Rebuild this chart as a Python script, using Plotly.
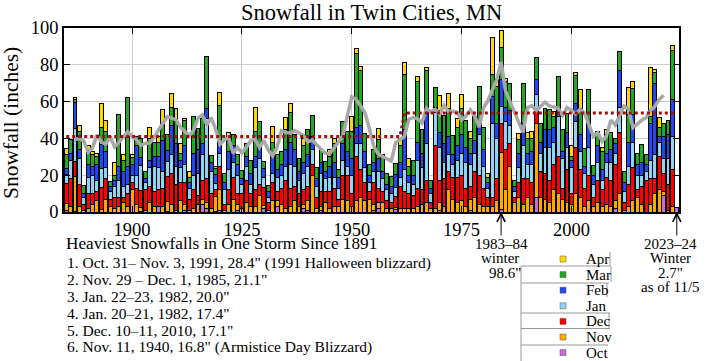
import numpy as np
import plotly.graph_objects as go

years = list(range(1885, 2025))

oct_snow = [1,0,0.3,0,0,0,0,0,0,0,
            0,0,0,0,0,0,0,0.5,0,0,
            0,3,0,0.5,0,0,0,1,0,0,
            0,4,2,0,0.5,1,0,0,0,1,
            0,0,0,0,0,2,0,0,3,0,
            0,0,0,0,2,1,0,0,1,0,
            0,0,0,0,0,0,0,0,0,0,
            1,2,0,0,0,1.5,0,0,0,0,
            0,0,0,0,0,1,0,0,0,0,
            0,0,1,0,0,0,0,0,0,1.2,
            0,0,0,0,0,0,0,8,0,0,
            0,0,0,0,0,0,0,0,0,0,
            0,0,0,0,0,2,0,0,0,0,
            0,0,0,0,0,0,9,0,0,2.7]
nov_snow = [3.5,3,19,3,1,2,4,6,1.5,7,
            3,2,3,5,3,12,4,2,1,5,
            3,0,3,5,4,1,6,3,1,2,
            4,3,3,2,8,11,1,4,7,3,
            2,5,3,3,9,1.5,1,6,3,4,
            2,3,6,3,2,5,20,2,2,5,
            2,3,3,7,6,3,6,8,6,7,
            3,3,5,2,2,1,2,2,2,2,
            3,4,5,2,2,4,3,12,7,5,
            6,3,6,8,4,3,3,3,6,31,
            12,25,5,8,4,8,4,40,8,7,
            5,12,10,7,5,4,10,8,3,6,
            3,5,3,4,3,4,10,1,3,6,
            8,4,0,4,10,12,2,1,3,0]
dec_snow = [11,15,8,12,3,8,6,5,12,11,
            4,6,5,3,7,4,9,9,11,9,
            8,9,10,14,17,14,10,12,6,10,
            5,10,13,8,4,13,3,8,12,6,
            8,12,7,9,6,10,4,10,5,9,
            15,10,8,7,8,8,6,6,8,6,
            9,10,4,13,14,7,24,15,10,4,
            12,8,6,4,3,6,12,9,8,7,
            10,8,12,3,34,12,15,10,12,14,
            14,10,7,14,16,10,5,5,12,16,
            22,12,3,8,14,10,12,8,14,14,
            12,14,20,6,18,6,25,15,10,14,
            5,12,9,15,14,20,33,4,12,18,
            4,10,17,14,8,18,10,14,20,0]
jan_snow = [5,10,18,14,4,9,10,6,10,6,
            4,6,9,6,5,4,7,14,4,10,
            14,12,9,8,10,10,8,10,6,8,
            12,14,33,12,3,7,8,11,8,10,
            5,8,5,12,14,5,3,5,8,7,
            8,13,11,7,9,11,8,6,10,7,
            8,6,6,8,5,10,7,14,8,5,
            6,9,7,6,5,5,5,12,6,6,
            15,12,20,5,18,18,9,9,7,9,
            12,14,12,10,22,12,5,40,22,9,
            15,10,3,8,18,8,10,8,10,14,
            18,12,22,16,12,14,14,10,8,15,
            7,10,5,8,10,6,14,6,10,14,
            8,6,5,10,13,8,8,14,18,0]
feb_snow = [3,4,14,5,2,7,5,9,13,9,
            3,3,8,8,10,6,16,4,2,4,
            5,6,17,6,16,12,4,10,3,12,
            13,6,5,5,5,5,4,10,9,6,
            3,5,6,6,8,5,3,9,4,6,
            9,12,9,5,6,6,7,4,6,4,
            6,8,6,9,8,9,9,10,9,4,
            5,7,4,3,4,7,8,22,4,5,
            10,8,20,3,3,8,10,10,5,8,
            10,8,6,7,6,9,3,15,8,15,
            8,8,3,8,12,6,7,8,6,10,
            10,8,5,4,8,4,10,9,4,12,
            5,9,6,5,7,5,20,5,13,15,
            6,7,4,20,39,3,12,13,20,0]
mar_snow = [8,7.5,2,10,4.5,8,6,4,9.5,10.6,
            2.5,3,28,6,37,3.5,5,10.5,4,12,
            8,8,8,8.5,10,12,4,14,3,20,
            11.6,14,28.6,3.8,3,21,4.7,6,6,5,
            4.6,7,7,14,12,4,3.3,7.6,8,7,
            10.6,16,8,7,9,14,11.5,6,7,5.5,
            5,10,4,12,11,15,40,30,9.4,6,
            7,10.6,9,6,5.4,6.1,9,30,5,8,
            33,12.7,20,4,10.8,12,15.5,15,10.7,10,
            14,15,8,13,20,12,3,12,20,17,
            14,14.6,3,7.4,22,8,7,12,10,11,
            10.6,6,16.7,11.7,10.3,2,15,14,9.4,19.5,
            5.4,8,10,10,9,3,10,6,15,14,
            6,9.6,5.5,4,6,5,7,8,27,0]
apr_snow = [3,0,1,3,0,2,2,2,13,6,
            0,7,0,3,0,2,0,0,0,6,
            0,3,8.5,0,7.5,7,5,1,3,0,
            0,0,0,0,1.3,7,0,4,0,0,
            0,0,0,13,0,0,0,9,0,0,
            7,4.7,0,0,4,0,0,0,0,0,
            4,3,0,0,0,8,2.8,2,0,0,
            0,6,0,0,0,0,4,6.5,4,0,
            2.7,0,1.6,0,0,8.4,0,8.3,0,5,
            8,0,3.5,0,0.3,0,2,20,4,9.4,
            1.8,0,0,3,0,3,4,0,0,0,
            0,2.7,0,0,0,6,2,10.5,0,0,
            0,0,2,2.7,0,0,0,0,14.8,4,
            0,0,0,26.6,1.4,5.4,0,0,2.6,0]

month_names = ["Oct", "Nov", "Dec", "Jan", "Feb", "Mar", "Apr"]
month_values = [oct_snow, nov_snow, dec_snow, jan_snow, feb_snow, mar_snow, apr_snow]
month_colors = ["#C46CE0", "#FFA800", "#FF0000", "#8FD3F5", "#1F48F0", "#22A822", "#FFD700"]

# period averages (red dotted step line)
avg_years = [1885, 1961, 1962, 2024]
avg_values = [41.1, 41.1, 53.8, 53.8]

storm_heading = "Heaviest Snowfalls in One Storm Since 1891"
storm_lines = [
    "1. Oct. 31\u2013 Nov. 3, 1991, 28.4\" (1991 Halloween blizzard)",
    "2. Nov. 29 \u2013 Dec. 1, 1985, 21.1\"",
    "3. Jan. 22\u201323, 1982, 20.0\"",
    "4. Jan. 20\u201321, 1982, 17.4\"",
    "5. Dec. 10\u201311, 2010, 17.1\"",
    "6. Nov. 11, 1940, 16.8\" (Armistice Day Blizzard)",
]
x_ticks = [1900, 1925, 1950, 1975, 2000]
y_ticks = [0, 20, 40, 60, 80, 100]

totals = np.sum(np.array(month_values, dtype=float), axis=0)
# 5-year centred moving average (complete winters only, to 2022-23)
complete = totals[:-1]
ma = np.convolve(complete, np.ones(5) / 5, mode="valid")
ma_years = years[2:2 + len(ma)]

FONT = "Liberation Serif"
W, H = 706, 361
L, R, T, B = 64, 679, 28, 212


def px(x):
    return (x - L) / (R - L)


def py(y):
    return (B - y) / (B - T)


fig = go.Figure()
for name, vals, col in zip(month_names, month_values, month_colors):
    fig.add_trace(go.Bar(x=years, y=vals, name=name, marker_color=col,
                         marker_line_color="black", marker_line_width=1,
                         showlegend=False))

fig.add_trace(go.Scatter(x=ma_years, y=ma, mode="lines",
                         line=dict(color="#A8A8A8", width=3.5), showlegend=False))
fig.add_trace(go.Scatter(x=avg_years, y=avg_values, mode="lines",
                         line=dict(color="#A01010", width=3, dash="dot"), showlegend=False))

annotations = []
shapes = []

# title and y title
annotations.append(dict(text="Snowfall in Twin Cities, MN", xref="paper", yref="paper",
                        x=0.5, y=py(12), xanchor="center", yanchor="middle",
                        showarrow=False, font=dict(size=22.5, family=FONT, color="black")))
annotations.append(dict(text="Snowfall (inches)", xref="paper", yref="paper",
                        x=px(11), y=py(123), xanchor="center", yanchor="middle",
                        textangle=-90, showarrow=False,
                        font=dict(size=21.5, family=FONT, color="black")))

# storm list
annotations.append(dict(text=storm_heading, xref="paper", yref="paper", x=px(64), y=py(244),
                        xanchor="left", yanchor="middle", showarrow=False,
                        font=dict(size=17.2, family=FONT, color="black")))
for i, line in enumerate(storm_lines):
    annotations.append(dict(text=line, xref="paper", yref="paper", x=px(65), y=py(263 + 16.8 * i),
                            xanchor="left", yanchor="middle", showarrow=False,
                            font=dict(size=15.5, family=FONT, color="black")))

# arrows
for xa in (1984, 2024):
    annotations.append(dict(text="", x=xa, y=0, xref="x", yref="y", ax=0, ay=25,
                            showarrow=True, arrowhead=5, arrowsize=1.6, arrowwidth=1,
                            arrowcolor="black", standoff=0))
for i, line in enumerate(["1983\u201384", "winter", "98.6\""]):
    annotations.append(dict(text=line, xref="x", yref="paper", x=1984, y=py(244 + 14.3 * i),
                            xanchor="center", yanchor="middle", showarrow=False,
                            xshift=[0, -1, 4][i],
                            font=dict(size=15, family=FONT, color="black")))
for i, line in enumerate(["2023\u201324", "Winter", "2.7\"", "as of 11/5"]):
    annotations.append(dict(text=line, xref="paper", yref="paper", x=px(670.5), y=py(244 + 14.3 * i),
                            xanchor="center", yanchor="middle", showarrow=False,
                            font=dict(size=15, family=FONT, color="black")))

# manual legend (Apr at top)
for i, (name, col) in enumerate(zip(month_names[::-1], month_colors[::-1])):
    yc = 259 + 15.6 * i
    shapes.append(dict(type="rect", xref="paper", yref="paper",
                       x0=px(560), x1=px(566), y0=py(yc + 3), y1=py(yc - 3),
                       fillcolor=col, line=dict(color="#555555", width=0.5)))
    annotations.append(dict(text=name, xref="paper", yref="paper", x=px(584), y=py(yc),
                            xanchor="left", yanchor="middle", showarrow=False,
                            font=dict(size=15, family=FONT, color="black")))

# legend box fragments
seg = [((521, 266), (521, 361)),
       ((521, 266), (610, 266)), ((610, 252), (610, 266)),
       ((521, 283), (609, 283)), ((611, 266), (611, 282)),
       ((607, 283), (607, 297)),
       ((521, 313), (610, 313)), ((609, 313), (609, 328)),
       ((521, 328.5), (610, 328.5)),
       ((521, 345), (608, 345))]
for (x0, y0), (x1, y1) in seg:
    shapes.append(dict(type="line", xref="paper", yref="paper",
                       x0=px(x0), y0=py(y0), x1=px(x1), y1=py(y1),
                       line=dict(color="#999999", width=1)))

axis_common = dict(showline=True, linecolor="black", linewidth=1.5, mirror="ticks",
                   ticks="inside", ticklen=6, tickcolor="black", tickwidth=1,
                   showgrid=True, gridcolor="#CCCCCC", gridwidth=1, zeroline=False,
                   tickfont=dict(size=18.5, family=FONT, color="black"))

fig.update_layout(
    width=W, height=H,
    margin=dict(l=L, r=W - R, t=T, b=H - B, pad=0),
    barmode="stack", bargap=0.1,
    paper_bgcolor="white", plot_bgcolor="white",
    xaxis=dict(range=[1884.5, 2024.5], tickvals=x_ticks, **axis_common),
    yaxis=dict(range=[0, 100], tickvals=y_ticks, **axis_common),
    annotations=annotations, shapes=shapes,
    showlegend=False,
)

fig.write_html("out.html", config={"displayModeBar": False},
               post_script="document.body.style.margin='0px';document.body.style.overflow='hidden';")
